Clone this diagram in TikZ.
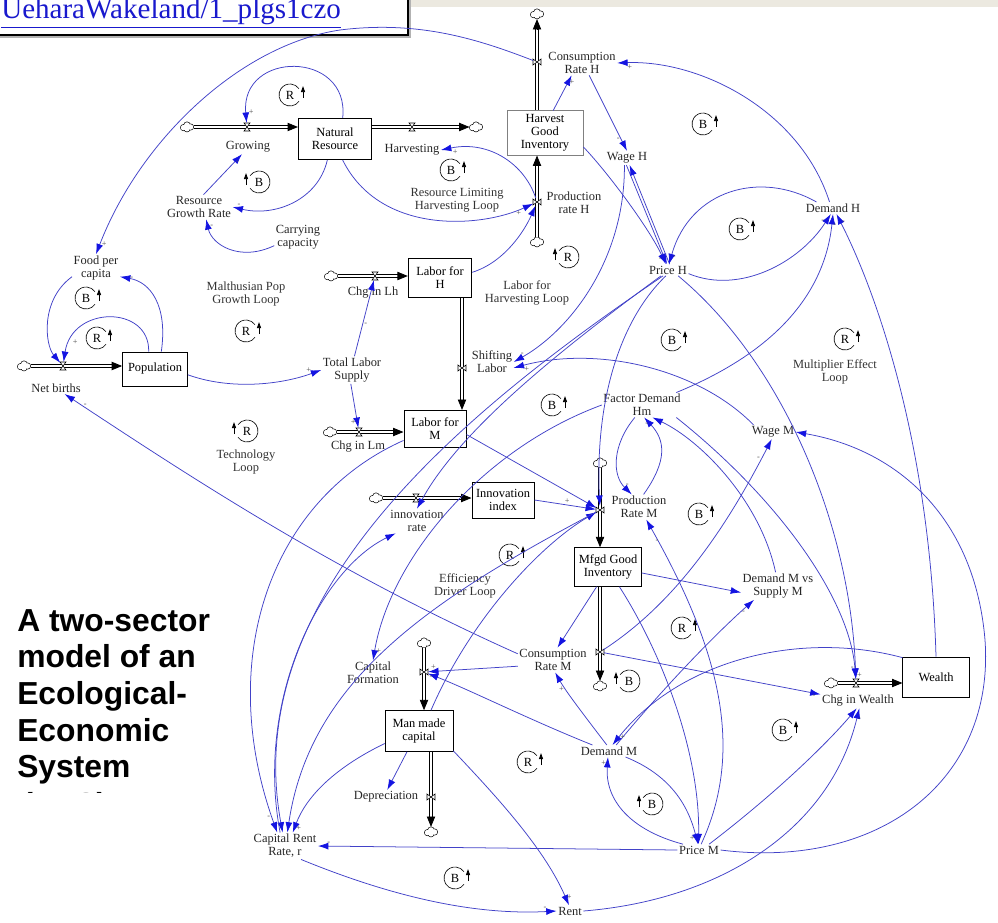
\documentclass[tikz,border=0pt]{standalone}
\usepackage{fontspec}
\setmainfont{Liberation Serif}
\newfontfamily\headfont{Liberation Sans}
\usetikzlibrary{arrows.meta,calc}
\definecolor{linkc}{RGB}{66,66,200}
\definecolor{tipc}{RGB}{20,20,225}
\definecolor{urlc}{RGB}{25,25,205}
\definecolor{bandc}{RGB}{236,233,224}
\newcommand\lab{\fontsize{9}{9.4}\selectfont}
\newcommand\flow[2]{\draw[pipe] (#1) -- (#2); \draw[pipetip] ($(#2)!7pt!(#1)$) -- (#2);}
\tikzset{
  stock/.style={draw, fill=white, line width=0.55pt, align=center, font=\lab, inner sep=1pt},
  aux/.style={align=center, font=\lab, inner sep=1pt, text=black!85},
  looptext/.style={align=center, font=\lab, inner sep=0pt, text=black!80},
  lk/.style={draw=linkc, line width=0.55pt, -{Latex[length=7.5pt,width=5pt,color=tipc]}},
  pipe/.style={draw=black, double=white, double distance=1.9pt, line width=0.6pt, shorten >=5pt},
  pipetip/.style={draw=black, line width=0.6pt, -{Triangle[length=7.5pt,width=6pt]}},
  cld/.style={inner sep=0pt, minimum width=9pt, minimum height=7pt},
  sg/.style={font=\fontsize{6}{6}\selectfont, inner sep=1pt, text=black!70},
  pics/cloudpic/.style={code={
    \foreach \a/\b/\r in {-3.5/0.6/2.8, 0/-1.8/3, 3.5/0/2.8, 0/2/2.6} \draw[line width=0.9pt] (\a,\b) circle[radius=\r];
    \foreach \a/\b/\r in {-3.5/0.6/2.8, 0/-1.8/3, 3.5/0/2.8, 0/2/2.6} \fill[white] (\a,\b) circle[radius=\r];}},
  pics/valveh/.style={code={\draw[fill=white, line width=0.4pt] (-3,-4) -- (3,-4) -- (-3,4) -- (3,4) -- cycle;}},
  pics/valvev/.style={code={\draw[fill=white, line width=0.4pt] (-4,-3) -- (-4,3) -- (4,-3) -- (4,3) -- cycle;}},
  pics/loopr/.style={code={
    \draw[line width=0.45pt] (35:11) arc[start angle=35, end angle=325, radius=11];
    \draw[line width=0.7pt, -{Triangle[length=4.5pt,width=3pt]}] (13,3) -- (13,-9);
    \node[font=\lab, inner sep=0pt] at (0,0) {#1};}},
  pics/loopl/.style={code={
    \draw[line width=0.45pt] (145:11) arc[start angle=145, end angle=-145, radius=11];
    \draw[line width=0.7pt, -{Triangle[length=4.5pt,width=3pt]}] (-13,3) -- (-13,-9);
    \node[font=\lab, inner sep=0pt] at (0,0) {#1};}}
}
\begin{document}
\begin{tikzpicture}[x=0.0254cm, y=-0.0254cm]
\useasboundingbox (0,0) rectangle (998,922);

% header strip and link box
\fill[bandc] (0,0) rectangle (998,7);
\fill[gray!60] (-5,-5) rectangle (411,38);
\draw[fill=white, line width=0.8pt] (-5,-5) rectangle (408,35);
\node[anchor=base west, inner sep=0pt, text=urlc, font=\fontsize{21}{24}\selectfont] (url) at (1,19) {\underline{UeharaWakeland/1\_plgs1czo}};

% title
\node[anchor=north west, inner sep=0pt, align=left, font=\headfont\bfseries\fontsize{23}{26.5}\selectfont] (title) at (17,609) {A two-sector\\model of an\\Ecological-\\Economic\\System};
\begin{scope}
  \clip (0,788) rectangle (200,792);
  \node[anchor=base west, inner sep=0pt, font=\headfont\bfseries\fontsize{23}{26.5}\selectfont] (ees) at (22,815) {(EES)};
\end{scope}

% stocks
\node[stock, minimum width=53pt, minimum height=30pt] (NR) at (335,139) {Natural\\Resource};
\node[stock, draw=gray, minimum width=55pt, minimum height=32pt] (HGI) at (545,133) {Harvest\\Good\\Inventory};
\node[stock, minimum width=46pt, minimum height=28pt] (LH) at (440,278) {Labor for\\H};
\node[stock, minimum width=45pt, minimum height=27pt] (LM) at (435,429) {Labor for\\M};
\node[stock, minimum width=47pt, minimum height=24.5pt] (Pop) at (155,369) {Population};
\node[stock, minimum width=45pt, minimum height=26pt] (II) at (503,500) {Innovation\\index};
\node[stock, minimum width=48pt, minimum height=28pt] (MGI) at (608,567) {Mfgd Good\\Inventory};
\node[stock, minimum width=48pt, minimum height=29pt] (W) at (936,677) {Wealth};
\node[stock, minimum width=49pt, minimum height=29.5pt] (MMC) at (419,731) {Man made\\capital};

% clouds
\node[cld] (cG) at (187,127) {};
\node[cld] (cH) at (476,127) {};
\node[cld] (cCH) at (537,14) {};
\node[cld] (cPH) at (537,242) {};
\node[cld] (cLh) at (331,276) {};
\node[cld] (cLm) at (330,432) {};
\node[cld] (cNB) at (24,366) {};
\node[cld] (cIR) at (376,498) {};
\node[cld] (cPM) at (600,463) {};
\node[cld] (cCM) at (600,686) {};
\node[cld] (cW) at (831,683) {};
\node[cld] (cKF) at (424,643) {};
\node[cld] (cDep) at (431,832) {};
\foreach \c in {cG,cH,cCH,cPH,cLh,cLm,cNB,cIR,cPM,cCM,cW,cKF,cDep} \pic at (\c) {cloudpic};
\coordinate (sl) at (462,368);

% flows
\flow{cG.east}{cG.east -| NR.west}
\flow{cH -| NR.east}{cH.west}
\flow{cCH |- HGI.north}{cCH.south}
\flow{cPH.north}{cPH |- HGI.south}
\flow{cLh.east}{cLh.east -| LH.west}
\flow{cLm.east}{cLm.east -| LM.west}
\flow{sl |- LH.south}{sl |- LM.north}
\flow{cNB.east}{cNB.east -| Pop.west}
\flow{cIR.east}{cIR.east -| II.west}
\flow{cPM.south}{cPM |- MGI.north}
\flow{cPM |- MGI.south}{cCM.north}
\flow{cW.east}{cW.east -| W.west}
\flow{cKF.south}{cKF |- MMC.north}
\flow{cDep |- MMC.south}{cDep.north}

% valves
\coordinate (vGrow) at (247,127);
\coordinate (vHarv) at (412,127);
\coordinate (vCRH) at (537,62);
\coordinate (vPRH) at (537,202);
\coordinate (vLh) at (375,276);
\coordinate (vLm) at (359,432);
\coordinate (vSL) at (462,368);
\coordinate (vNB) at (63,366);
\coordinate (vIR) at (416,498);
\coordinate (vPM) at (600,510);
\coordinate (vCM) at (600,652);
\coordinate (vW) at (856,683);
\coordinate (vKF) at (424,672);
\coordinate (vDep) at (431,797);
\foreach \v in {vGrow,vHarv,vLh,vLm,vNB,vIR,vW} \pic at (\v) {valveh};
\foreach \v in {vCRH,vPRH,vSL,vPM,vCM,vKF,vDep} \pic at (\v) {valvev};

% flow labels
\node[aux] (lGrow) at (248,147) {Growing};
\node[aux] (lHarv) at (412,150) {Harvesting};
\node[aux] (lCRH) at (582,63) {Consumption\\Rate H};
\node[aux] (lPRH) at (574,203) {Production\\rate H};
\node[aux] (lLh) at (373,293) {Chg in Lh};
\node[aux] (lLm) at (358,447) {Chg in Lm};
\node[aux] (lSL) at (492,362) {Shifting\\Labor};
\node[aux] (lNB) at (56,388) {Net births};
\node[aux] (lIR) at (417,521) {innovation\\rate};
\node[aux] (lPM) at (639,507) {Production\\Rate M};
\node[aux] (lCM) at (553,660) {Consumption\\Rate M};
\node[aux] (lW) at (858,701) {Chg in Wealth};
\node[aux] (lKF) at (373,673) {Capital\\Formation};
\node[aux] (lDep) at (386,797) {Depreciation};

% auxiliaries
\node[aux] (WageH) at (627,158) {Wage H};
\node[aux] (PriceH) at (668,270) {Price H};
\node[aux] (DemH) at (833,208) {Demand H};
\node[aux] (FPC) at (96,268) {Food per\\capita};
\node[aux] (RGR) at (199,207) {Resource\\Growth Rate};
\node[aux] (CC) at (298,237) {Carrying\\capacity};
\node[aux] (TLS) at (352,370) {Total Labor\\Supply};
\node[aux] (FDHm) at (642,405) {Factor Demand\\Hm};
\node[aux] (WageM) at (773,432) {Wage M};
\node[aux] (DMvSM) at (778,586) {Demand M vs\\Supply M};
\node[aux] (DemM) at (609,751) {Demand M};
\node[aux] (PriceM) at (699,850) {Price M};
\node[aux] (CRR) at (285,846) {Capital Rent\\Rate, r};
\node[aux] (Rent) at (570,911) {Rent};

% loop names
\node[looptext] (RLHL) at (457,200) {Resource Limiting\\Harvesting Loop};
\node[looptext] (MPGL) at (246,294) {Malthusian Pop\\Growth Loop};
\node[looptext] (LHL) at (527,293) {Labor for\\Harvesting Loop};
\node[looptext] (TL) at (246,462) {Technology\\Loop};
\node[looptext] (EDL) at (465,586) {Efficiency\\Driver Loop};
\node[looptext] (MEL) at (835,372) {Multiplier Effect\\Loop};

% loop symbols
\pic at (290,95) {loopr=R};
\pic at (259,182) {loopl=B};
\pic at (451,170) {loopr=B};
\pic at (703,124) {loopr=B};
\pic at (740,229) {loopr=B};
\pic at (568,257) {loopl=R};
\pic at (86,298) {loopr=B};
\pic at (97,338) {loopr=R};
\pic at (246,331) {loopr=R};
\pic at (247,431) {loopl=R};
\pic at (672,340) {loopr=B};
\pic at (552,405) {loopr=B};
\pic at (845,339) {loopr=R};
\pic at (699,514) {loopr=B};
\pic at (510,555) {loopr=R};
\pic at (682,628) {loopr=R};
\pic at (629,681) {loopl=B};
\pic at (528,762) {loopr=R};
\pic at (783,730) {loopr=B};
\pic at (652,804) {loopl=B};
\pic at (455,878) {loopr=B};

% natural resource sector
\draw[lk, shorten >=3pt] (NR.70) .. controls (350,50) and (240,50) .. (vGrow) node[sg, pos=0.93, right] {+};
\draw[lk] (NR.250) .. controls (318,200) and (275,217) .. (RGR.east) node[sg, pos=0.95, above] {-};
\draw[lk] (RGR.70) -- (lGrow.230) node[sg, pos=0.8, right] {-};
\draw[lk] (CC.200) .. controls (240,262) and (212,245) .. (RGR.-60) node[sg, pos=0.9, right] {-};
\draw[lk, shorten >=3pt] (NR.290) .. controls (380,235) and (480,228) .. (vPRH) node[sg, pos=0.9, below] {+};
\draw[lk, shorten <=3pt] (vPRH) .. controls (525,165) and (490,140) .. (lHarv.east) node[sg, pos=0.9, below] {+};
\draw[lk, shorten >=3pt] (LH.10) .. controls (505,262) and (525,230) .. (vPRH);
\draw[lk] (HGI.70) -- (lCRH.230) node[sg, pos=0.8, right] {+};
\draw[lk] (lCRH.-60) -- (WageH.north) node[sg, pos=0.85, left] {-};
\draw[lk] (HGI.-20) .. controls (610,175) and (650,230) .. (PriceH.110) node[sg, pos=0.95, left] {-};
\draw[lk] (WageH.-95) -- (PriceH.100);
\draw[lk] (PriceH.75) -- (WageH.-70) node[sg, pos=0.05, right] {-};
\draw[lk, shorten <=3pt] (vCRH) .. controls (480,40) and (420,20) .. (340,30) .. controls (240,45) and (140,140) .. (FPC.north) node[sg, pos=0.97, right] {+};

% population sector
\draw[lk, shorten >=3pt] (FPC.200) .. controls (40,300) and (45,345) .. (vNB);
\draw[lk, shorten >=3pt] (Pop.110) .. controls (150,305) and (72,305) .. (vNB) node[sg, pos=0.85, right] {+};
\draw[lk] (Pop.70) .. controls (168,305) and (150,282) .. (FPC.-20) node[sg, pos=0.9, right] {-};
\draw[lk] (Pop.-10) .. controls (230,390) and (280,385) .. (TLS.west) node[sg, pos=0.9, above] {+};
\draw[lk, shorten >=3pt] (TLS.80) -- (vLh) node[sg, pos=0.4, right] {-};
\draw[lk, shorten >=3pt] (TLS.-95) -- (vLm) node[sg, pos=0.8, left] {+};
\draw[lk] (LM.200) .. controls (270,500) and (215,660) .. (CRR.120) node[sg, pos=0.97, left] {-};
\draw[lk] (lCM.170) .. controls (330,570) and (180,470) .. (lNB.-35) node[sg, pos=0.95, right] {-};

% labor and production
\draw[lk, shorten >=3pt] (LM.-10) -- (vPM);
\draw[lk, shorten >=3pt] (II.east) -- (vPM) node[sg, pos=0.5, above] {+};
\draw[lk, shorten >=3pt] (MMC.60) .. controls (470,620) and (540,545) .. (vPM);
\draw[lk, shorten >=3pt] (PriceH.-110) .. controls (620,320) and (595,400) .. (vPM);
\draw[lk] (WageH.-110) .. controls (625,260) and (570,330) .. (lSL.east) node[sg, pos=0.95, above] {-};
\draw[lk] (PriceH.-140) .. controls (560,350) and (460,430) .. (lIR.north);
\draw[lk] (WageM.160) .. controls (700,370) and (600,345) .. (lSL.-15) node[sg, pos=0.95, below] {+};
\draw[lk] (PriceH.-130) .. controls (450,420) and (240,600) .. (CRR.100);

% demand H and wealth
\draw[lk] (PriceH.-10) .. controls (740,295) and (800,262) .. (DemH.-110) node[sg, pos=0.95, left] {-};
\draw[lk] (DemH.160) .. controls (760,170) and (690,190) .. (PriceH.80) node[sg, pos=0.97, right] {-};
\draw[lk] (FDHm.20) .. controls (780,350) and (825,290) .. (DemH.-90) node[sg, pos=0.95, right] {-};
\draw[lk] (W.north) .. controls (930,450) and (880,300) .. (DemH.-60) node[sg, pos=0.97, right] {-};
\draw[lk] (DemH.120) .. controls (800,110) and (700,60) .. (lCRH.east) node[sg, pos=0.95, below] {+};
\draw[lk, shorten >=3pt] (PriceH.-30) .. controls (780,360) and (850,520) .. (vW) node[sg, pos=0.97, left] {-};
\draw[lk, shorten >=3pt] (FDHm.-20) .. controls (780,500) and (850,600) .. (vW) node[sg, pos=0.97, right] {+};

% manufacturing sector
\draw[lk] (FDHm.-120) .. controls (612,445) and (612,475) .. (lPM.120) node[sg, pos=0.85, right] {-};
\draw[lk] (lPM.70) .. controls (668,460) and (665,440) .. (FDHm.-80) node[sg, pos=0.9, left] {-};
\draw[lk] (DMvSM.100) .. controls (760,500) and (700,440) .. (FDHm.-50);
\draw[lk, shorten <=3pt] (vCM) .. controls (680,600) and (730,520) .. (WageM.-100) node[sg, pos=0.92, left] {-};
\draw[lk] (PriceM.east) .. controls (880,870) and (995,780) .. (985,640) .. controls (975,520) and (900,450) .. (WageM.east);
\draw[lk] (MGI.-10) -- (DMvSM.190);
\draw[lk] (MGI.-120) -- (lCM.70);
\draw[lk] (MGI.-60) .. controls (660,650) and (700,750) .. (PriceM.95);
\draw[lk, shorten <=3pt] (vCM) -- (lW.170) node[sg, pos=0.97, below] {-};
\draw[lk] (DemM.40) .. controls (670,680) and (720,630) .. (DMvSM.-150) node[sg, pos=0.9, below] {-};
\draw[lk] (W.150) .. controls (800,630) and (680,660) .. (DemM.60) node[sg, pos=0.97, right] {+};
\draw[lk, shorten >=3pt] (DemM.160) .. controls (530,720) and (470,690) .. (vKF) node[sg, pos=0.95, below] {-};
\draw[lk, shorten >=3pt] (lCM.190) -- (vKF) node[sg, pos=0.9, above] {+};
\draw[lk] (DemM.110) .. controls (580,710) and (565,690) .. (lCM.-80) node[sg, pos=0.7, left] {+};
\draw[lk] (DemM.-20) .. controls (670,775) and (688,805) .. (PriceM.100) node[sg, pos=0.95, left] {+};
\draw[lk] (PriceM.160) .. controls (630,830) and (605,800) .. (DemM.-100) node[sg, pos=0.95, left] {+};
\draw[lk] (PriceM.west) -- (CRR.east) node[sg, pos=0.97, above] {-};
\draw[lk] (PriceM.30) .. controls (780,790) and (830,740) .. (lW.-100);
\draw[lk] (Rent.east) .. controls (720,900) and (830,830) .. (lW.-80) node[sg, pos=0.97, right] {-};
\draw[lk] (CRR.-40) .. controls (400,900) and (480,915) .. (Rent.west) node[sg, pos=0.95, above] {-};
\draw[lk] (MMC.-30) .. controls (500,800) and (545,850) .. (Rent.100) node[sg, pos=0.95, right] {+};
\draw[lk] (MMC.-120) -- (lDep.80);
\draw[lk] (MMC.200) .. controls (330,770) and (305,800) .. (CRR.60) node[sg, pos=0.95, right] {+};
\draw[lk] (PriceM.70) .. controls (745,750) and (720,650) .. (lPM.-60) node[sg, pos=0.95, below] {-};
\draw[lk, shorten <=3pt] (vPM) .. controls (430,600) and (310,680) .. (CRR.80);
\draw[lk] (CRR.110) .. controls (255,700) and (320,570) .. (lIR.-150);
\draw[lk] (FDHm.west) .. controls (480,450) and (390,560) .. (lKF.north) node[sg, pos=0.97, right] {+};
\end{tikzpicture}
\end{document}
